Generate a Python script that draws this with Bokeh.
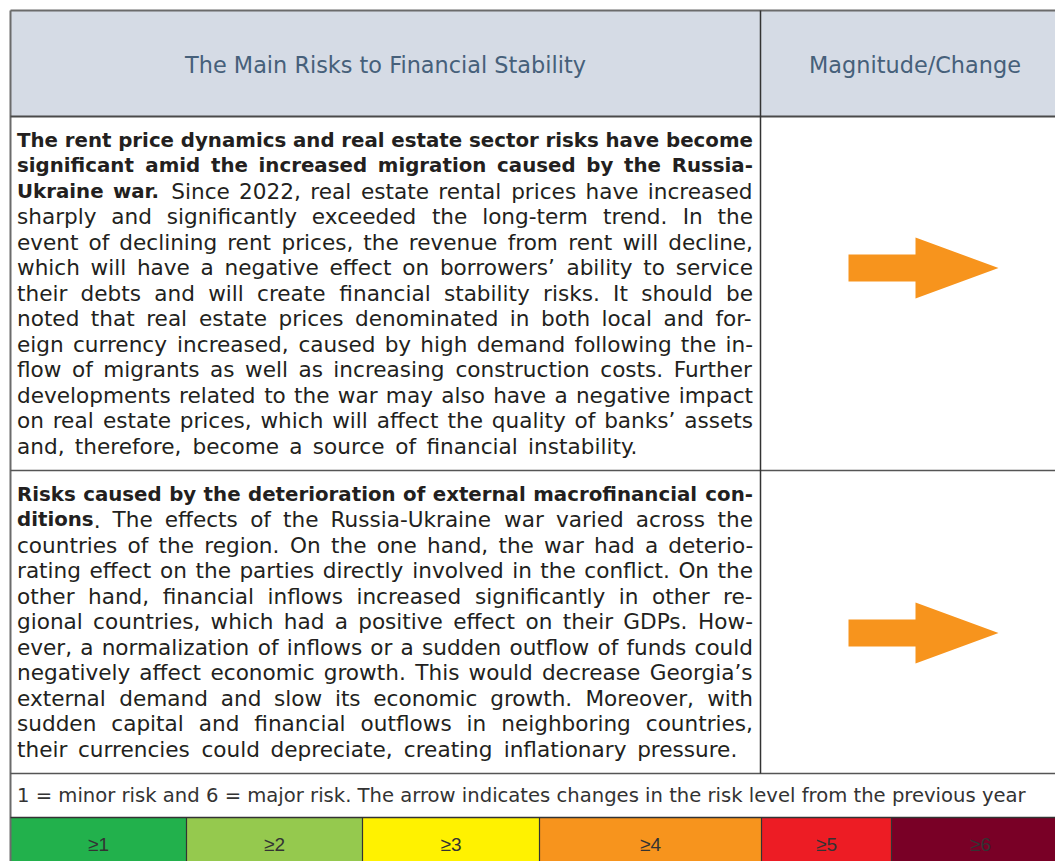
import glob
import math
import struct
from bokeh.plotting import figure
from bokeh.models import Range1d, ColumnDataSource
from bokeh.core.properties import value
from bokeh.embed import file_html
from bokeh.resources import INLINE

# ---------------- data ----------------
header_titles = ["The Main Risks to Financial Stability", "Magnitude/Change"]

risk1_lines = [
    "**The rent price dynamics and real estate sector risks have become**",
    "**significant amid the increased migration caused by the Russia-**",
    "**Ukraine war.** Since 2022, real estate rental prices have increased",
    "sharply and significantly exceeded the long-term trend. In the",
    "event of declining rent prices, the revenue from rent will decline,",
    "which will have a negative effect on borrowers’ ability to service",
    "their debts and will create financial stability risks. It should be",
    "noted that real estate prices denominated in both local and for-",
    "eign currency increased, caused by high demand following the in-",
    "flow of migrants as well as increasing construction costs. Further",
    "developments related to the war may also have a negative impact",
    "on real estate prices, which will affect the quality of banks’ assets",
    "and, therefore, become a source of financial instability.",
]
risk2_lines = [
    "**Risks caused by the deterioration of external macrofinancial con-**",
    "**ditions**. The effects of the Russia-Ukraine war varied across the",
    "countries of the region. On the one hand, the war had a deterio-",
    "rating effect on the parties directly involved in the conflict. On the",
    "other hand, financial inflows increased significantly in other re-",
    "gional countries, which had a positive effect on their GDPs. How-",
    "ever, a normalization of inflows or a sudden outflow of funds could",
    "negatively affect economic growth. This would decrease Georgia’s",
    "external demand and slow its economic growth. Moreover, with",
    "sudden capital and financial outflows in neighboring countries,",
    "their currencies could depreciate, creating inflationary pressure.",
]
risk_paragraphs = [risk1_lines, risk2_lines]
risk_changes = [0, 0]          # 0 = unchanged (arrow to the right)
note_text = ("1 = minor risk and 6 = major risk. The arrow indicates changes "
             "in the risk level from the previous year")
scale_labels = ["≥1", "≥2", "≥3", "≥4", "≥5", "≥6"]
scale_colors = ["#22b14c", "#95c94e", "#fff200", "#f7941d", "#ed1c24", "#790026"]

# ---------------- layout (page pixel coords, y downward) ----------------
W, H = 1055, 861
L, R = 10, 1069
Y_TOP, Y_HEAD = 10, 116
ROW_BOTTOMS = [470, 773]
Y_NOTE_BOTTOM = 817
Y_LEG_BOTTOM = 880
COL_DIV = 760
TX0, TX1 = 16.5, 752.5
LINE_H = 25.5
FIRST_BASE = 23.5
BODY_SIZE = 21.6
BOLD_SIZE = 19.8
HEAD_SIZE = 22.4
NOTE_SIZE = 19.6
LEG_SIZE = 19
LEG_EDGES = [10, 186, 362, 539, 761, 891, 1069]
ARROW_FRAC = [0.428, 0.536]
ARROW_CX = 923

# ---------------- font metrics ----------------
def load_font(path):
    data = open(path, "rb").read()
    num = struct.unpack(">H", data[4:6])[0]
    tables = {}
    for i in range(num):
        tag, cs, off, ln = struct.unpack(">4sIII", data[12 + 16 * i:28 + 16 * i])
        tables[tag.decode("latin1")] = off
    head = tables["head"]
    upem = struct.unpack(">H", data[head + 18:head + 20])[0]
    hhea = tables["hhea"]
    nhm = struct.unpack(">H", data[hhea + 34:hhea + 36])[0]
    hm = tables["hmtx"]
    adv = [struct.unpack(">H", data[hm + 4 * i:hm + 4 * i + 2])[0] for i in range(nhm)]
    cm = tables["cmap"]
    n = struct.unpack(">H", data[cm + 2:cm + 4])[0]
    sub = None
    for i in range(n):
        pid, eid, off = struct.unpack(">HHI", data[cm + 4 + 8 * i:cm + 12 + 8 * i])
        fmt = struct.unpack(">H", data[cm + off:cm + off + 2])[0]
        if fmt == 4:
            sub = cm + off
            if pid == 3:
                break
    seg2 = struct.unpack(">H", data[sub + 6:sub + 8])[0]
    segs = seg2 // 2
    ends = struct.unpack(">%dH" % segs, data[sub + 14:sub + 14 + seg2])
    so = sub + 16 + seg2
    starts = struct.unpack(">%dH" % segs, data[so:so + seg2])
    do = so + seg2
    deltas = struct.unpack(">%dh" % segs, data[do:do + seg2])
    ro = do + seg2
    ros = struct.unpack(">%dH" % segs, data[ro:ro + seg2])
    cache = {}

    def gid(c):
        for i in range(segs):
            if ends[i] >= c:
                if starts[i] > c:
                    return 0
                if ros[i] == 0:
                    return (c + deltas[i]) & 0xFFFF
                addr = ro + 2 * i + ros[i] + 2 * (c - starts[i])
                g = struct.unpack(">H", data[addr:addr + 2])[0]
                return (g + deltas[i]) & 0xFFFF if g else 0
        return 0

    def width_em(s):
        tot = 0
        for ch in s:
            if ch not in cache:
                g = gid(ord(ch))
                cache[ch] = adv[min(g, nhm - 1)] / upem
            tot += cache[ch]
        return tot
    return width_em


def approx_em(s):
    tot = 0
    for ch in s:
        if ch == " ":
            tot += 0.318
        elif ch in "il.,’'j:;|!":
            tot += 0.28
        elif ch in "ftr-":
            tot += 0.4
        elif ch in "mwMW":
            tot += 0.95
        else:
            tot += 0.62
    return tot


def find(name):
    for root in ("/usr/share/fonts", "/usr/local/share/fonts", "/usr", "/opt"):
        try:
            hits = glob.glob(root + "/**/" + name, recursive=True)
        except Exception:
            hits = []
        if hits:
            return hits[0]
    return None

try:
    _reg = load_font(find("DejaVuSans.ttf"))
except Exception:
    _reg = approx_em
try:
    _bold = load_font(find("DejaVuSans-Bold.ttf"))
except Exception:
    _bold = lambda s: _reg(s) * 1.12


def measure(t, bold):
    return _bold(t) * BOLD_SIZE if bold else _reg(t) * BODY_SIZE


def parse(line):
    segs = []
    for i, part in enumerate(line.split("**")):
        if part:
            segs.append((part, i % 2 == 1))
    words = [[]]
    for text, bold in segs:
        pieces = text.split(" ")
        for j, piece in enumerate(pieces):
            if j > 0:
                words.append([])
            if piece:
                words[-1].append((piece, bold))
    return [w for w in words if w]


def build_paragraph(lines, y0, out):
    parsed = []
    for line in lines:
        words = parse(line)
        ws = [sum(measure(t, b) for t, b in w) for w in words]
        parsed.append((words, ws))
    # justified gaps; the last line uses the paragraph's mean word gap
    gaps = []
    for words, ws in parsed[:-1]:
        gaps.append((TX1 - TX0 - sum(ws)) / max(len(words) - 1, 1))
    mean_gap = sum(gaps) / len(gaps) if gaps else measure(" ", False)
    gaps.append(mean_gap)
    for k, ((words, ws), gap) in enumerate(zip(parsed, gaps)):
        x = TX0
        y = y0 + k * LINE_H
        for w, wwidth in zip(words, ws):
            xx = x
            for t, b in w:
                d = out["bold" if b else "normal"]
                d["x"].append(xx)
                d["y"].append(y)
                d["text"].append(t)
                xx += measure(t, b)
            x += wwidth + gap


# ---------------- figure ----------------
p = figure(width=W, height=H, x_range=Range1d(0, W), y_range=Range1d(H, 0),
           output_backend="svg", toolbar_location=None, min_border=0,
           x_axis_type=None, y_axis_type=None, outline_line_color=None)
p.grid.visible = False
p.background_fill_color = "white"
p.border_fill_color = "white"

# header background
p.quad(left=[L], right=[R], top=[Y_TOP], bottom=[Y_HEAD],
       fill_color="#d5dbe5", line_color=None)

# legend cells
p.quad(left=LEG_EDGES[:-1], right=LEG_EDGES[1:],
       top=[Y_NOTE_BOTTOM] * len(scale_labels), bottom=[Y_LEG_BOTTOM] * len(scale_labels),
       fill_color=scale_colors, line_color=None)

# table lines
p.segment(x0=[L], y0=[Y_TOP], x1=[R], y1=[Y_TOP], line_color="#6b6b6b", line_width=2)
p.segment(x0=[L], y0=[Y_TOP], x1=[L], y1=[Y_LEG_BOTTOM], line_color="#6b6b6b", line_width=2)
p.segment(x0=[L], y0=[Y_HEAD], x1=[R], y1=[Y_HEAD], line_color="#4a4a4a", line_width=2)
p.segment(x0=[L] * 2, y0=ROW_BOTTOMS, x1=[R] * 2, y1=ROW_BOTTOMS,
          line_color="#555555", line_width=1.5)
p.segment(x0=[L], y0=[Y_NOTE_BOTTOM], x1=[R], y1=[Y_NOTE_BOTTOM],
          line_color="#333333", line_width=1.5)
p.segment(x0=[COL_DIV], y0=[Y_TOP], x1=[COL_DIV], y1=[ROW_BOTTOMS[-1]],
          line_color="#333333", line_width=1.5)
p.segment(x0=LEG_EDGES[1:-1], y0=[Y_NOTE_BOTTOM] * 5, x1=LEG_EDGES[1:-1],
          y1=[Y_LEG_BOTTOM] * 5, line_color="#333333", line_width=1.2)

# header texts
p.text(x=[(L + COL_DIV) / 2, (COL_DIV + R) / 2], y=[Y_HEAD - 52] * 2, text=header_titles,
       text_font=value("DejaVu Sans"), text_font_size=f"{HEAD_SIZE}px",
       text_color="#46607a", text_align="center", text_baseline="alphabetic")

# body paragraphs
out = {"normal": dict(x=[], y=[], text=[]), "bold": dict(x=[], y=[], text=[])}
row_tops = [Y_HEAD] + ROW_BOTTOMS[:-1]
for lines, top in zip(risk_paragraphs, row_tops):
    build_paragraph(lines, top + FIRST_BASE, out)
for style, size in (("normal", BODY_SIZE), ("bold", BOLD_SIZE)):
    p.text(x="x", y="y", text="text", source=ColumnDataSource(out[style]),
           text_font=value("DejaVu Sans"), text_font_size=f"{size}px",
           text_font_style=style, text_color="#231f20",
           text_align="left", text_baseline="alphabetic")

# arrows
xs, ys = [], []
shape = [(-75, -13.5), (-8, -13.5), (-8, -30.5), (75, 0),
         (-8, 30.5), (-8, 13.5), (-75, 13.5)]
for chg, top, bot, frac in zip(risk_changes, row_tops, ROW_BOTTOMS, ARROW_FRAC):
    cy = top + (bot - top) * frac
    cx = ARROW_CX
    ang = -chg * math.pi / 4
    ca, sa = math.cos(ang), math.sin(ang)
    xs.append([cx + u * ca - v * sa for u, v in shape])
    ys.append([cy + u * sa + v * ca for u, v in shape])
p.patches(xs=xs, ys=ys, fill_color="#f7941d", line_color=None)

# note
p.text(x=[TX0], y=[Y_NOTE_BOTTOM - 22], text=[note_text],
       text_font=value("DejaVu Sans"), text_font_size=f"{NOTE_SIZE}px",
       text_color="#333333", text_align="left", text_baseline="alphabetic")

# scale labels
p.text(x=[(a + b) / 2 for a, b in zip(LEG_EDGES[:-1], LEG_EDGES[1:])],
       y=[Y_NOTE_BOTTOM + 27] * len(scale_labels), text=scale_labels,
       text_font=value("Liberation Sans"), text_font_size=f"{LEG_SIZE}px",
       text_color="#333333", text_align="center", text_baseline="alphabetic")

open("out.html", "w", encoding="utf-8").write(file_html(p, INLINE))
